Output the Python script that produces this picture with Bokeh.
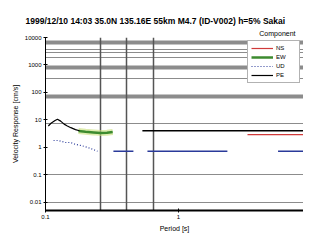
from bokeh.plotting import figure
from bokeh.models import Title, FixedTicker, PrintfTickFormatter, Legend, LegendItem
from bokeh.embed import file_html
from bokeh.resources import INLINE

title_text = "1999/12/10 14:03 35.0N 135.16E 55km M4.7 (ID-V002) h=5% Sakai"
legend_title = "Component"
x_label = "Period [s]"
y_label = "Velocity Response [cm/s]"

# black spectrum (PE)
pe_period = [0.105, 0.110, 0.118, 0.123, 0.130, 0.138, 0.146, 0.155, 0.168, 0.180]
pe_vel = [6.0, 7.5, 9.5, 10.6, 9.0, 7.0, 6.0, 5.2, 4.4, 4.0]
pe_flat_period = [0.535, 10.0]
pe_flat_vel = [3.99, 3.99]

# green spectrum (EW)
ew_period = [0.177, 0.20, 0.23, 0.26, 0.29, 0.32]
ew_vel = [3.9, 3.7, 3.5, 3.3, 3.4, 3.6]

# blue spectrum (UD)
ud_period = [0.115, 0.125, 0.141, 0.154, 0.168, 0.183, 0.207, 0.246]
ud_vel = [1.77, 1.77, 1.50, 1.50, 1.28, 1.18, 1.0, 0.72]
ud_seg_period = [[0.324, 0.458], [0.584, 2.33], [5.6, 10.0]]
ud_seg_vel = [[0.72, 0.72], [0.72, 0.72], [0.72, 0.72]]

# red spectrum (NS)
ns_period = [3.3, 10.0]
ns_vel = [2.88, 2.88]

# reference levels / periods
thick_levels = [6600, 790, 69]
thin_levels = [3700, 2900, 1900, 322, 7.6, 0.1, 0.01]
period_marks = [0.259, 0.406, 0.65]

y_ticks = [0.01, 0.1, 1, 10, 100, 1000, 10000]
x_ticks = [0.1, 1]

FONT = "Liberation Sans"

p = figure(width=303, height=234, x_axis_type="log", y_axis_type="log",
           x_range=(0.1, 8.7), y_range=(0.005, 10000),
           output_backend="svg", toolbar_location=None,
           min_border_left=45, min_border_right=0, min_border_top=37, min_border_bottom=19)
p.title.visible = False
p.add_layout(Title(text=legend_title, align="right", text_font_size="7px",
                   text_font=FONT, text_font_style="normal", text_color="#000000",
                   standoff=1, offset=8), "above")
p.add_layout(Title(text=title_text, align="left", text_font_size="8.5px",
                   text_font=FONT, text_font_style="bold", text_color="#000000",
                   standoff=4, offset=-20), "above")

p.xgrid.visible = False
p.ygrid.visible = False
p.outline_line_color = None

p.hspan(y=thick_levels, line_color="#8c8c8c", line_width=4)
p.hspan(y=thin_levels, line_color="#8c8c8c", line_width=1.2)
p.vspan(x=period_marks, line_color="#555555", line_width=1.5)

r_ns = p.line(ns_period, ns_vel, line_color="#d03a3a", line_width=1.2)
r_ew_halo = p.line(ew_period, ew_vel, line_color="#c8e07a", line_width=6, line_alpha=0.6)
r_ew = p.line(ew_period, ew_vel, line_color="#3d8b2f", line_width=2.5)
r_ud = p.line(ud_period, ud_vel, line_color="#2a3a9a", line_width=1.2, line_dash="1 2")
r_ud2 = p.multi_line(ud_seg_period, ud_seg_vel, line_color="#2a3a9a", line_width=1.5)
r_pe = p.line(pe_period, pe_vel, line_color="#000000", line_width=1.2)
r_pe2 = p.line(pe_flat_period, pe_flat_vel, line_color="#000000", line_width=1.5)

legend = Legend(items=[LegendItem(label="NS", renderers=[r_ns]),
                       LegendItem(label="EW", renderers=[r_ew]),
                       LegendItem(label="UD", renderers=[r_ud]),
                       LegendItem(label="PE", renderers=[r_pe])],
                location="top_right", label_text_font_size="6px", label_text_font=FONT,
                label_text_color="#000000",
                glyph_height=8, glyph_width=22, spacing=1, padding=3, margin=3,
                label_height=8, label_standoff=3,
                border_line_color="#666666", background_fill_alpha=1.0)
p.add_layout(legend)

p.yaxis.ticker = FixedTicker(ticks=y_ticks)
p.yaxis.formatter = PrintfTickFormatter(format="%g")
p.xaxis.ticker = FixedTicker(ticks=x_ticks)
p.xaxis.formatter = PrintfTickFormatter(format="%g")
p.yaxis.minor_tick_line_color = None
p.xaxis.minor_tick_line_color = None
for ax in (p.xaxis, p.yaxis):
    ax.major_label_text_font_size = "6px"
    ax.major_label_text_font = FONT
    ax.major_label_text_color = "#000000"
    ax.axis_label_text_font_size = "7px"
    ax.axis_label_text_font = FONT
    ax.axis_label_text_font_style = "normal"
    ax.axis_label_text_color = "#000000"
    ax.major_tick_in = 2
    ax.major_tick_out = 2
    ax.major_tick_line_color = "#000000"
    ax.major_label_standoff = 2
    ax.axis_label_standoff = 3
    ax.axis_line_color = "#000000"
p.xaxis.axis_line_width = 2
p.yaxis.axis_line_width = 1
p.xaxis.axis_label = x_label
p.yaxis.axis_label = y_label

open("out.html", "w").write(file_html(p, INLINE))
